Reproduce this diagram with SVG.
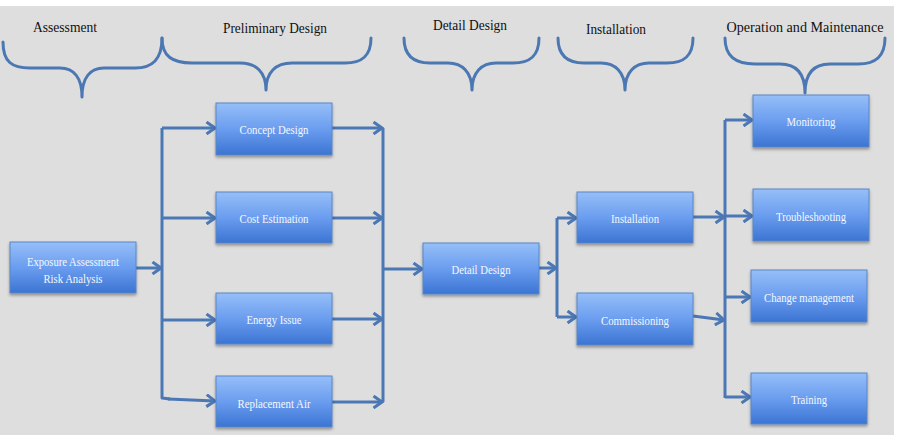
<svg xmlns="http://www.w3.org/2000/svg" width="898" height="440" viewBox="0 0 898 440">
<style>
.bg{fill:#dedede}
.brace{fill:none;stroke:#4b77b2;stroke-width:3;stroke-linejoin:round;stroke-linecap:round}
.title{font-family:"Liberation Serif","Times New Roman",serif;font-size:15px;fill:#111;text-anchor:middle}
.box{fill:url(#g);stroke:#5b86c4;stroke-width:1;filter:url(#sh)}
.lbl{font-family:"Liberation Serif","Times New Roman",serif;font-size:13px;fill:#f4f8ff;text-anchor:middle}
.conn{fill:none;stroke:#4b78b5;stroke-width:3;stroke-linejoin:round}
.arr{marker-end:url(#ah)}
</style>
<defs>
<linearGradient id="g" x1="0" y1="0" x2="0" y2="1">
<stop offset="0" stop-color="#96bff8"/>
<stop offset="0.5" stop-color="#6b9def"/>
<stop offset="1" stop-color="#3b74d3"/>
</linearGradient>
<filter id="sh" x="-10%" y="-10%" width="125%" height="140%">
<feDropShadow dx="0" dy="2" stdDeviation="1.5" flood-color="#000" flood-opacity="0.35"/>
</filter>
<marker id="ah" markerUnits="userSpaceOnUse" viewBox="0 0 12 14" refX="10" refY="7" markerWidth="12" markerHeight="14" orient="auto">
<path d="M1.5,1 L10,7 L1.5,13" fill="none" stroke="#4b78b5" stroke-width="3" stroke-linejoin="miter"/>
</marker>
</defs>
<rect x="0" y="0" width="898" height="440" fill="#ffffff"/>
<rect class="bg" x="0" y="6" width="894" height="429"/>

<g id="braces">
<path class="brace" d="M3,42 C3,62 12,68 30,68 L60,68 C74,68 82,78 82,97 C82,78 90,68 104,68 L135,68 C152,68 162,60 162,38"/>
<path class="brace" d="M162,38 C162,56 172,63 192,63 L240,63 C256,63 266,72 266,90 C266,72 276,63 292,63 L345,63 C362,63 371,56 371,38"/>
<path class="brace" d="M404,38 C404,56 414,63 430,63 L448,63 C462,63 472,72 472,90 C472,72 482,63 496,63 L513,63 C530,63 539,56 539,38"/>
<path class="brace" d="M558,38 C558,56 568,63 584,63 L601,63 C615,63 625,72 625,90 C625,72 635,63 649,63 L667,63 C684,63 693,56 693,38"/>
<path class="brace" d="M725,38 C725,56 735,64 755,64 L780,64 C796,64 805,73 805,93 C805,73 814,64 830,64 L858,64 C876,64 885,56 885,38"/>
</g>

<g id="titles">
<text class="title" x="65" y="32" textLength="64" lengthAdjust="spacingAndGlyphs">Assessment</text>
<text class="title" x="275" y="33" textLength="104" lengthAdjust="spacingAndGlyphs">Preliminary Design</text>
<text class="title" x="470" y="30" textLength="74" lengthAdjust="spacingAndGlyphs">Detail Design</text>
<text class="title" x="616" y="34" textLength="60" lengthAdjust="spacingAndGlyphs">Installation</text>
<text class="title" x="805" y="32" textLength="157" lengthAdjust="spacingAndGlyphs">Operation and Maintenance</text>
</g>

<g id="connectors">
<path class="conn arr" d="M136,268 L161,268"/>
<path class="conn" d="M162,128 L162,398 L170,399"/>
<path class="conn arr" d="M162,128 L215,128"/>
<path class="conn arr" d="M162,218 L215,218"/>
<path class="conn arr" d="M162,320 L215,320"/>
<path class="conn arr" d="M168,399 L215,401"/>
<path class="conn arr" d="M332,128 L382,128"/>
<path class="conn arr" d="M332,218 L382,218"/>
<path class="conn arr" d="M332,319 L382,319"/>
<path class="conn arr" d="M332,402 L382,402"/>
<path class="conn" d="M383,128 L383,402"/>
<path class="conn arr" d="M383,269 L422,269"/>
<path class="conn arr" d="M539,268 L556,268"/>
<path class="conn" d="M557,218 L557,317"/>
<path class="conn arr" d="M557,218 L576,218"/>
<path class="conn arr" d="M557,317 L576,317"/>
<path class="conn arr" d="M693,217 L724,217"/>
<path class="conn arr" d="M693,316 L724,320"/>
<path class="conn" d="M725,398 L725,120"/>
<path class="conn arr" d="M725,120 L752,120"/>
<path class="conn arr" d="M725,216 L752,216"/>
<path class="conn arr" d="M725,297 L750,297"/>
<path class="conn arr" d="M725,397 L750,397"/>
</g>

<g id="node-exposure">
<rect class="box" x="10" y="242" width="126" height="51"/>
<text class="lbl" x="73" y="266" textLength="92" lengthAdjust="spacingAndGlyphs">Exposure Assessment</text>
<text class="lbl" x="73" y="283" textLength="59" lengthAdjust="spacingAndGlyphs">Risk Analysis</text>
</g>
<g id="node-concept">
<rect class="box" x="216" y="103" width="116" height="52"/>
<text class="lbl" x="274" y="134" textLength="69" lengthAdjust="spacingAndGlyphs">Concept Design</text>
</g>
<g id="node-cost">
<rect class="box" x="216" y="192" width="116" height="51"/>
<text class="lbl" x="274" y="223" textLength="69" lengthAdjust="spacingAndGlyphs">Cost Estimation</text>
</g>
<g id="node-energy">
<rect class="box" x="216" y="293" width="116" height="51"/>
<text class="lbl" x="274" y="324" textLength="55" lengthAdjust="spacingAndGlyphs">Energy Issue</text>
</g>
<g id="node-replacement">
<rect class="box" x="216" y="376" width="116" height="51"/>
<text class="lbl" x="274" y="408" textLength="73" lengthAdjust="spacingAndGlyphs">Replacement Air</text>
</g>
<g id="node-detail">
<rect class="box" x="423" y="243" width="116" height="51"/>
<text class="lbl" x="481" y="274" textLength="59" lengthAdjust="spacingAndGlyphs">Detail Design</text>
</g>
<g id="node-installation">
<rect class="box" x="577" y="192" width="116" height="51"/>
<text class="lbl" x="635" y="223" textLength="48" lengthAdjust="spacingAndGlyphs">Installation</text>
</g>
<g id="node-commissioning">
<rect class="box" x="577" y="293" width="116" height="52"/>
<text class="lbl" x="635" y="325" textLength="68" lengthAdjust="spacingAndGlyphs">Commissioning</text>
</g>
<g id="node-monitoring">
<rect class="box" x="753" y="95" width="116" height="52"/>
<text class="lbl" x="811" y="126" textLength="49" lengthAdjust="spacingAndGlyphs">Monitoring</text>
</g>
<g id="node-troubleshooting">
<rect class="box" x="753" y="189" width="116" height="52"/>
<text class="lbl" x="811" y="221" textLength="70" lengthAdjust="spacingAndGlyphs">Troubleshooting</text>
</g>
<g id="node-change">
<rect class="box" x="751" y="270" width="116" height="52"/>
<text class="lbl" x="809" y="302" textLength="90" lengthAdjust="spacingAndGlyphs">Change management</text>
</g>
<g id="node-training">
<rect class="box" x="751" y="373" width="116" height="51"/>
<text class="lbl" x="809" y="404" textLength="36" lengthAdjust="spacingAndGlyphs">Training</text>
</g>
</svg>
